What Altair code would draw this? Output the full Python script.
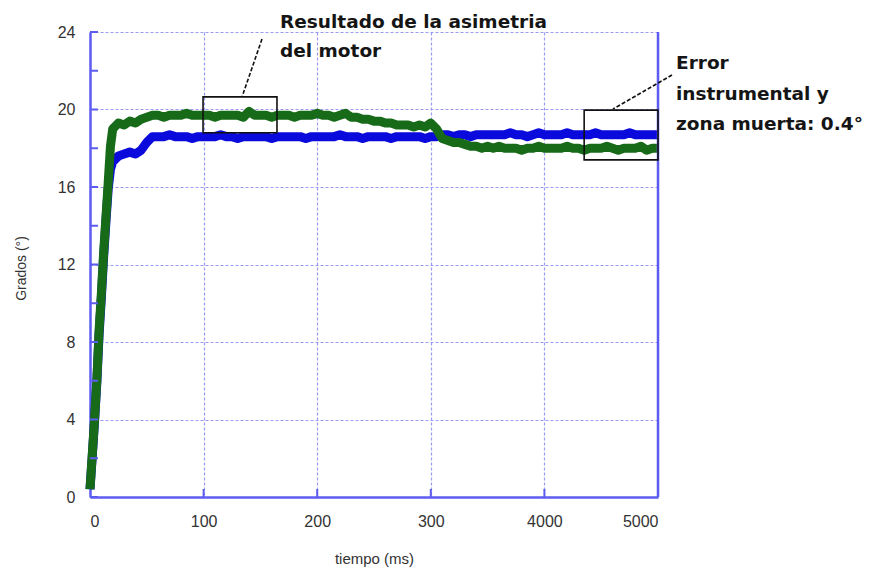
import altair as alt
import pandas as pd

# Sample times (ms) shared by both traces
TIME = [
    0, 2, 4, 6, 8, 10, 12, 14, 16, 18, 20,
    25, 30, 35, 40, 45, 50,
    55, 60, 65, 70, 75, 80, 85, 90, 95, 100,
    105, 110, 115, 120, 125, 130, 135, 140, 145, 150,
    155, 160, 165, 170, 175, 180, 185, 190, 195, 200,
    205, 210, 215, 220, 225, 230, 235, 240, 245, 250,
    255, 260, 265, 270, 275, 280, 285, 290, 295, 300,
    305, 310, 315, 320, 325, 330, 335, 340, 345, 350,
    355, 360, 365, 370, 375, 380, 385, 390, 395, 400,
    405, 410, 415, 420, 425, 430, 435, 440, 445, 450,
    455, 460, 465, 470, 475, 480, 485, 490, 495, 500,
]

# Angle (degrees) of the blue trace
BLUE = [
    0.4, 2.1, 3.9, 5.9, 8.4, 10.3, 12.4, 14.2, 15.9, 16.9, 17.3,
    17.6, 17.7, 17.8, 17.7, 17.9, 18.3,
    18.6, 18.6, 18.6, 18.7, 18.6, 18.6, 18.6, 18.5, 18.6, 18.6,
    18.6, 18.6, 18.7, 18.6, 18.6, 18.5, 18.6, 18.6, 18.6, 18.6,
    18.6, 18.5, 18.6, 18.6, 18.6, 18.6, 18.6, 18.5, 18.6, 18.6,
    18.6, 18.6, 18.6, 18.7, 18.6, 18.6, 18.6, 18.5, 18.6, 18.6,
    18.6, 18.6, 18.5, 18.6, 18.6, 18.6, 18.6, 18.6, 18.5, 18.6,
    18.6, 18.7, 18.7, 18.6, 18.7, 18.7, 18.6, 18.7, 18.7, 18.7,
    18.7, 18.7, 18.7, 18.8, 18.7, 18.7, 18.6, 18.7, 18.8, 18.7,
    18.7, 18.7, 18.7, 18.8, 18.7, 18.7, 18.7, 18.7, 18.8, 18.7,
    18.7, 18.7, 18.7, 18.7, 18.8, 18.7, 18.7, 18.7, 18.7, 18.7,
]

# Angle (degrees) of the green trace
GREEN = [
    0.4, 2.2, 4.0, 6.0, 8.6, 10.5, 12.6, 14.4, 16.2, 18.1, 19.0,
    19.3, 19.2, 19.4, 19.3, 19.5, 19.6,
    19.7, 19.7, 19.6, 19.7, 19.7, 19.7, 19.8, 19.7, 19.7, 19.7,
    19.7, 19.6, 19.7, 19.7, 19.7, 19.7, 19.6, 19.9, 19.7, 19.7,
    19.7, 19.6, 19.7, 19.7, 19.7, 19.6, 19.7, 19.7, 19.7, 19.8,
    19.7, 19.7, 19.6, 19.7, 19.8, 19.6, 19.6, 19.5, 19.5, 19.4,
    19.4, 19.3, 19.3, 19.2, 19.2, 19.2, 19.1, 19.2, 19.1, 19.3,
    19.0, 18.5, 18.4, 18.3, 18.3, 18.2, 18.1, 18.1, 18.0, 18.1,
    18.0, 18.1, 18.0, 18.0, 18.0, 17.9, 18.0, 18.0, 18.1, 18.0,
    18.0, 18.0, 18.0, 18.1, 18.0, 18.0, 17.9, 18.0, 18.0, 18.0,
    18.1, 18.0, 17.9, 18.0, 18.0, 18.0, 18.1, 17.9, 18.0, 18.0,
]

X_TICKS = [0, 100, 200, 300, 400, 500]
X_LABELS = ["0", "100", "200", "300", "4000", "5000"]
Y_TICKS = [0, 2, 4, 6, 8, 10, 12, 14, 16, 18, 20, 22, 24]

# Highlight boxes (time range, angle range)
BOX_X = [99.5, 435]
BOX_X2 = [164.6, 500]
BOX_Y = [18.8, 17.4]
BOX_Y2 = [20.65, 19.97]

NOTE_1 = "Resultado de la asimetria\ndel motor"
NOTE_2 = "Error\ninstrumental y\nzona muerta: 0.4°"

W, H = 568, 465
GRID = "#9a9af0"
EDGE = "#5c5cf0"
FONT = "Liberation Sans"
NOTE_FONT = "DejaVu Sans"

blue_df = pd.DataFrame({"t": TIME, "v": BLUE})
green_df = pd.DataFrame({"t": TIME, "v": GREEN})
box_df = pd.DataFrame({"x": BOX_X, "x2": BOX_X2, "y": BOX_Y, "y2": BOX_Y2})
ytick_df = pd.DataFrame({"v": Y_TICKS})
xtick_df = pd.DataFrame({"t": X_TICKS[1:-1]})
one = alt.Data(values=[{}])

label_expr = " : ".join(
    f"datum.value == {v} ? '{s}'" for v, s in zip(X_TICKS, X_LABELS)
) + " : datum.label"

x_scale = alt.Scale(domain=[0, 500], nice=False)
y_scale = alt.Scale(domain=[0, 24], nice=False)

x_axis = alt.Axis(
    values=X_TICKS, labelExpr=label_expr, title="tiempo (ms)",
    grid=True, gridColor=GRID, gridDash=[3, 2], gridWidth=1.2,
    domainColor=EDGE, domainWidth=2.5, ticks=False,
    labelFont=FONT, labelFontSize=16, labelColor="#333333", labelPadding=16,
    titleFont=FONT, titleFontSize=15, titleFontWeight="normal", titleColor="#333333",
    titleBaseline="top", titleY=54,
)
y_axis = alt.Axis(
    values=Y_TICKS, labelExpr="datum.value % 4 == 0 ? datum.label : ''",
    title="Grados (°)",
    grid=True, gridColor=GRID, gridDash=[3, 2], gridWidth=1.2,
    domainColor=EDGE, domainWidth=2.5, ticks=False,
    labelFont=FONT, labelFontSize=16, labelColor="#333333", labelPadding=15,
    titleFont=FONT, titleFontSize=14, titleFontWeight="normal", titleColor="#333333",
    titleBaseline="middle", titleX=-69, titleY=236,
)

blue_line = alt.Chart(blue_df).mark_line(
    color="#0a0adc", strokeWidth=9, strokeJoin="round"
).encode(
    x=alt.X("t:Q", scale=x_scale, axis=x_axis),
    y=alt.Y("v:Q", scale=y_scale, axis=y_axis),
)
green_line = alt.Chart(green_df).mark_line(
    color="#176a18", strokeWidth=9, strokeJoin="round"
).encode(
    x=alt.X("t:Q", scale=x_scale),
    y=alt.Y("v:Q", scale=y_scale),
)

# Inward ticks on the left and bottom axes
y_ticks = alt.Chart(ytick_df).mark_rule(color=EDGE, strokeWidth=2).encode(
    y=alt.Y("v:Q", scale=y_scale), x=alt.value(0), x2=alt.value(8)
)
x_ticks = alt.Chart(xtick_df).mark_rule(color=EDGE, strokeWidth=2).encode(
    x=alt.X("t:Q", scale=x_scale), y=alt.value(H), y2=alt.value(H - 8)
)
right_edge = alt.Chart(one).mark_rule(color=EDGE, strokeWidth=2.5).encode(
    x=alt.value(W), y=alt.value(0), y2=alt.value(H)
)

boxes = alt.Chart(box_df).mark_rect(
    fill=None, stroke="#111111", strokeWidth=1.6
).encode(
    x=alt.X("x:Q", scale=x_scale), x2="x2:Q",
    y=alt.Y("y:Q", scale=y_scale), y2="y2:Q",
)

leader_1 = alt.Chart(one).mark_rule(
    color="#111111", strokeWidth=1.6, strokeDash=[4, 2]
).encode(x=alt.value(172), y=alt.value(7), x2=alt.value(152), y2=alt.value(65))
leader_2 = alt.Chart(one).mark_rule(
    color="#111111", strokeWidth=1.6, strokeDash=[4, 2]
).encode(x=alt.value(582), y=alt.value(43), x2=alt.value(523), y2=alt.value(77))

note_1 = alt.Chart(one).mark_text(
    text=NOTE_1, lineBreak="\n", align="left", baseline="alphabetic",
    font=NOTE_FONT, fontSize=18.5, fontWeight="bold", color="#151515", lineHeight=29,
).encode(x=alt.value(190), y=alt.value(-4))
note_2 = alt.Chart(one).mark_text(
    text=NOTE_2, lineBreak="\n", align="left", baseline="alphabetic",
    font=NOTE_FONT, fontSize=18.5, fontWeight="bold", color="#151515", lineHeight=30.5,
).encode(x=alt.value(586), y=alt.value(37))

chart = alt.layer(
    blue_line, green_line, y_ticks, x_ticks, right_edge,
    boxes, leader_1, leader_2, note_1, note_2,
).properties(
    width=W, height=H,
    autosize=alt.AutoSizeParams(type="none"),
    padding={"left": 90, "top": 32, "right": 875 - 90 - W, "bottom": 569 - 32 - H},
    background="white",
).configure_view(stroke=None)

chart.save("out.html", embed_options={"renderer": "svg", "actions": False})
